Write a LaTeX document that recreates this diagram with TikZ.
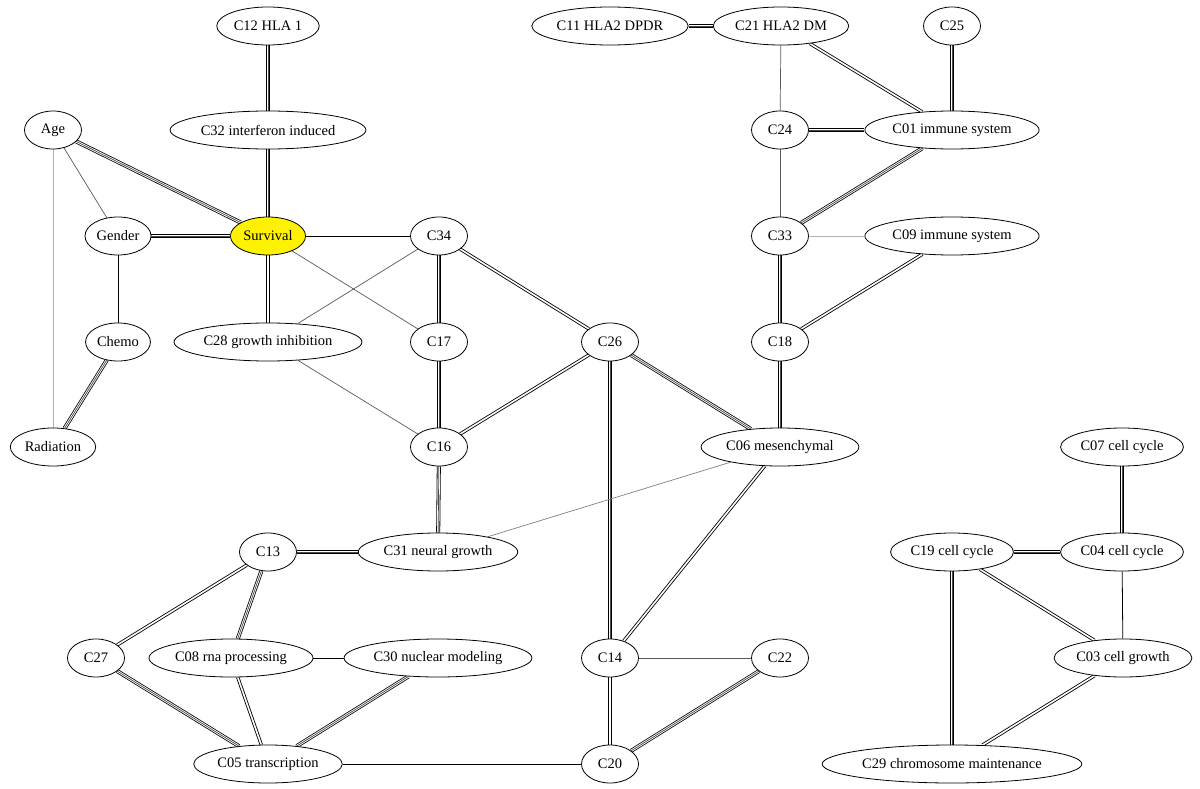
\documentclass[tikz,border=0pt]{standalone}
\usepackage{fontspec}
\setmainfont{Liberation Serif}
\usetikzlibrary{shapes.geometric, backgrounds}

\begin{document}
\begin{tikzpicture}[x=1pt, y=-1pt,
  cluster/.style={ellipse, draw=black, fill=white, line width=0.8pt, minimum width=57pt, minimum height=38pt, inner xsep=2pt, inner ysep=1pt, font=\fontsize{14.5}{17}\selectfont},
  outcome/.style={cluster, fill=yellow},
  faint/.style={draw=black!30, line width=0.8pt},
  weak/.style={draw=black!65, line width=0.7pt},
  plain/.style={draw=black, line width=0.8pt},
  dbl/.style={draw=white, line width=1.6pt, preaction={draw=black, line width=3.3pt}},
  trpl/.style={draw=white, line width=2.4pt, preaction={draw=black, line width=4pt}, postaction={draw=black!70, line width=0.7pt}}
]
\useasboundingbox (0,0) rectangle (1200,789);
% row 1
\node[cluster] (c12) at (268,26) {C12 HLA 1};
\node[cluster] (c11) at (610,26) {C11 HLA2 DPDR};
\node[cluster] (c21) at (781,26) {C21 HLA2 DM};
\node[cluster] (c25) at (952,26) {C25};
% row 2
\node[cluster] (age) at (53,130) {Age};
\node[cluster] (c32) at (268,130) {C32 interferon induced};
\node[cluster] (c24) at (780,130) {C24};
\node[cluster] (c01) at (952,130) {C01 immune system};
% row 3
\node[cluster] (gender) at (118,236) {Gender};
\node[outcome] (surv) at (268,236) {Survival};
\node[cluster] (c34) at (439,236) {C34};
\node[cluster] (c33) at (780,236) {C33};
\node[cluster] (c09) at (952,236) {C09 immune system};
% row 4
\node[cluster] (chemo) at (118,342) {Chemo};
\node[cluster] (c28) at (268,342) {C28 growth inhibition};
\node[cluster] (c17) at (439,342) {C17};
\node[cluster] (c26) at (610,342) {C26};
\node[cluster] (c18) at (780,342) {C18};
% row 5
\node[cluster] (rad) at (53,447) {Radiation};
\node[cluster] (c16) at (439,447) {C16};
\node[cluster] (c06) at (780,447) {C06 mesenchymal};
\node[cluster] (c07) at (1122,447) {C07 cell cycle};
% row 6
\node[cluster] (c13) at (268,552) {C13};
\node[cluster] (c31) at (438,552) {C31 neural growth};
\node[cluster] (c19) at (952,552) {C19 cell cycle};
\node[cluster] (c04) at (1122,552) {C04 cell cycle};
% row 7
\node[cluster] (c27) at (96,658) {C27};
\node[cluster] (c08) at (231,658) {C08 rna processing};
\node[cluster] (c30) at (438,658) {C30 nuclear modeling};
\node[cluster] (c14) at (610,658) {C14};
\node[cluster] (c22) at (780,658) {C22};
\node[cluster] (c03) at (1123,658) {C03 cell growth};
% row 8
\node[cluster] (c05) at (268,764) {C05 transcription};
\node[cluster] (c20) at (610,764) {C20};
\node[cluster] (c29) at (952,764) {C29 chromosome maintenance};

\begin{scope}[on background layer]
% clinical side
\draw[trpl] (c12) -- (c32);
\draw[trpl] (c32) -- (surv);
\draw[trpl] (age) -- (surv);
\draw[weak] (age) -- (gender);
\draw[faint] (age) -- (rad);
\draw[trpl] (gender) -- (surv);
\draw[plain] (gender) -- (chemo);
\draw[trpl] (chemo) -- (rad);
\draw[plain] (surv) -- (c34);
\draw[weak] (surv) -- (c17);
\draw[dbl] (surv) -- (c28);
\draw[weak] (c34) -- (c28);
\draw[trpl] (c34) -- (c17);
\draw[dbl] (c34) -- (c26);
\draw[trpl] (c17) -- (c16);
\draw[weak] (c28) -- (c16);
\draw[dbl] (c26) -- (c16);
\draw[trpl] (c26) -- (c06);
\draw[trpl] (c26) -- (c14);
\draw[trpl] (c16) -- (c31);
\draw[weak, draw=black!50] (c31) -- (c06);
\draw[dbl] (c06) -- (c14);
% immune side
\draw[trpl] (c11) -- (c21);
\draw[weak] (c21) -- (c24);
\draw[dbl] (c21) -- (c01);
\draw[trpl] (c25) -- (c01);
\draw[trpl] (c24) -- (c01);
\draw[weak] (c24) -- (c33);
\draw[trpl] (c01) -- (c33);
\draw[faint] (c33) -- (c09);
\draw[trpl] (c33) -- (c18);
\draw[dbl] (c09) -- (c18);
\draw[trpl] (c18) -- (c06);
% lower left
\draw[trpl] (c13) -- (c31);
\draw[dbl] (c13) -- (c27);
\draw[trpl] (c13) -- (c08);
\draw[trpl] (c27) -- (c05);
\draw[dbl] (c08) -- (c05);
\draw[plain] (c08) -- (c30);
\draw[trpl] (c30) -- (c05);
\draw[plain] (c05) -- (c20);
\draw[weak] (c14) -- (c22);
\draw[dbl] (c14) -- (c20);
\draw[trpl] (c22) -- (c20);
% cell cycle
\draw[trpl] (c07) -- (c04);
\draw[trpl] (c19) -- (c04);
\draw[dbl] (c19) -- (c03);
\draw[plain] (c04) -- (c03);
\draw[trpl] (c19) -- (c29);
\draw[dbl] (c03) -- (c29);
\end{scope}
\end{tikzpicture}
\end{document}
